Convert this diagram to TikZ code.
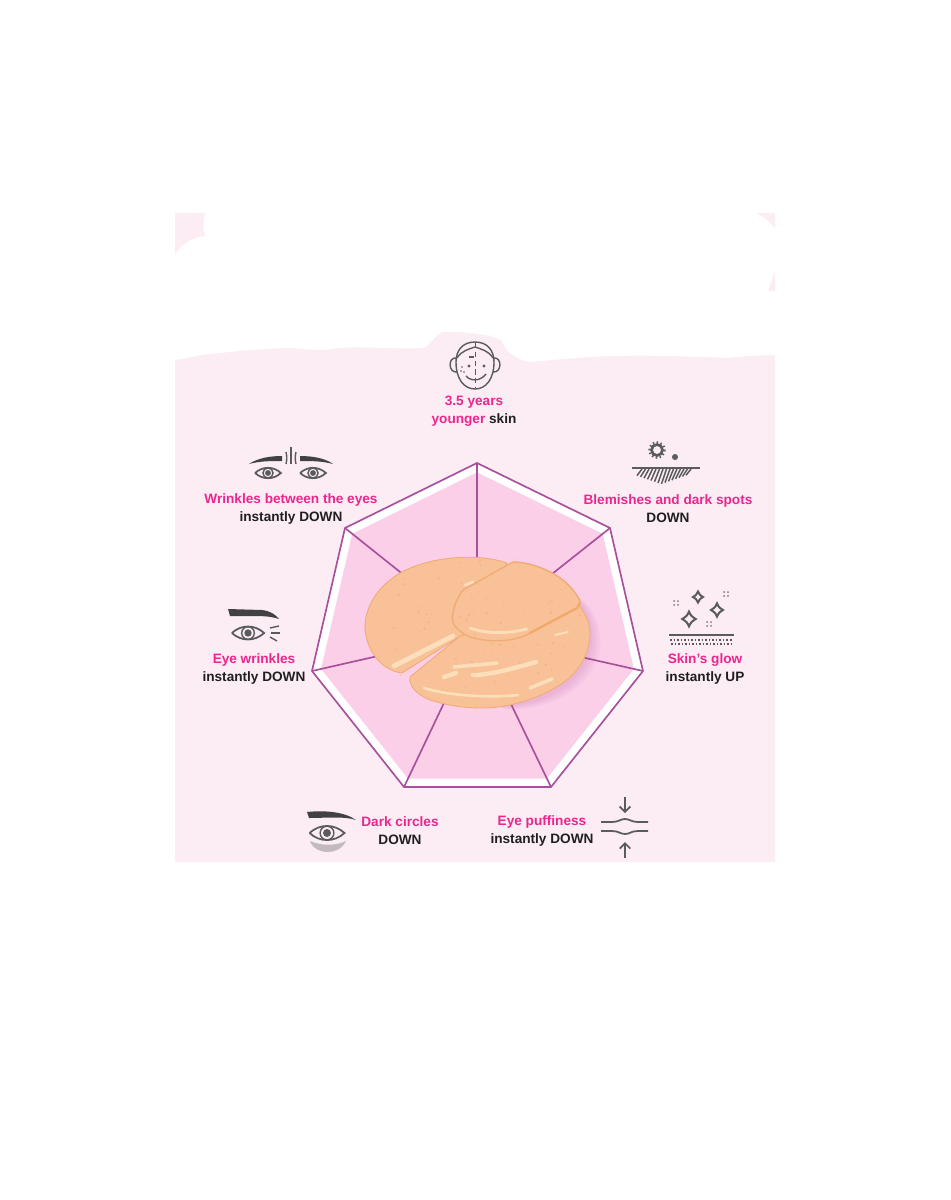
\documentclass[tikz,border=0pt]{standalone}
\usepackage{fontspec}
\setmainfont{Liberation Sans}
\usetikzlibrary{calc,arrows.meta}
\definecolor{bgpink}{HTML}{FBEDF3}
\definecolor{fillpink}{HTML}{FBCFE8}
\definecolor{linepurple}{HTML}{A9509C}
\definecolor{hotpink}{HTML}{EC268F}
\definecolor{inkgrey}{HTML}{5A5B5F}
\definecolor{inkdark}{HTML}{1F1F22}
\definecolor{peach}{HTML}{F8C197}
\definecolor{peachedge}{HTML}{F0AC74}
\definecolor{peachlight}{HTML}{FCE2BE}
\tikzset{%
    lbl/.style={align=center,inner sep=0pt,text=inkdark,font=\fontsize{7.75}{10.2}\selectfont\bfseries},
    ink/.style={draw=inkgrey,line width=0.8pt},
    brow/.style={fill=inkdark!85!white,draw=none},
    shine/.style={draw=peachlight,line cap=round,opacity=0.9},
    patch/.style={fill=peach,draw=peachedge,line width=0.5pt},
    eyeic/.pic={
        \draw[ink,fill=bgpink,line width=1pt] (-14,0) .. controls (-6,-7.5) and (6,-7.5) .. (14,0) .. controls (6,7.5) and (-6,7.5) .. (-14,0);
        \draw[ink] (0,0) circle (5.5);
        \fill[inkgrey] (0,0) circle (3.2);
    },
    sparkle/.pic={
        \draw[ink,line width=1.15pt,line join=miter] (0,-5.5) .. controls (1.6,-2.2) .. (5,0) .. controls (1.6,2.2) .. (0,5.5) .. controls (-1.6,2.2) .. (-5,0) .. controls (-1.6,-2.2) .. (0,-5.5) -- cycle;
    },
    dotsq/.pic={
        \foreach \dx in {-1.9,1.9} \foreach \dy in {-1.9,1.9}
            \fill[inkgrey!80!bgpink] (\dx,\dy) circle (1);
    }
}
\newcommand{\pk}[1]{{\color{hotpink}#1}}
\begin{document}
\begin{tikzpicture}[x=0.02cm,y=-0.02cm]
    \useasboundingbox (0,0) rectangle (950,1200);
    \fill[white] (0,0) rectangle (950,1200);

    \fill[bgpink] (175,360) .. controls (190,358) and (200,355) .. (210,354) .. controls (240,351) and (270,348) .. (291,348)
        .. controls (310,350) and (325,351) .. (338,348) .. controls (370,346) and (400,350) .. (423,348)
        .. controls (430,346) and (436,334) .. (443,332) .. controls (465,331) and (490,335) .. (501,340)
        .. controls (505,350) and (512,358) .. (529,362) .. controls (545,361) and (560,359) .. (579,358)
        .. controls (620,354) and (680,356) .. (727,358) .. controls (745,356) and (760,355) .. (775,355)
        -- (775,862) -- (175,862) -- cycle;
    \fill[bgpink] (175,213) -- (205,213) .. controls (203,220) and (203,230) .. (205,236) .. controls (190,238) and (180,245) .. (175,255) -- cycle;
    \fill[bgpink] (757,213) -- (775,213) -- (775,228) .. controls (770,222) and (764,217) .. (757,213) -- cycle;
    \fill[bgpink] (775,272) -- (775,291) -- (768,291) -- cycle;

    \coordinate (ctr) at (477,633.5);
    \coordinate (va) at (477,463);
    \coordinate (vb) at (610,528);
    \coordinate (vc) at (643,671);
    \coordinate (vd) at (551,787);
    \coordinate (ve) at (404,787);
    \coordinate (vf) at (312,671);
    \coordinate (vg) at (345,528);

    \fill[white] (va) -- (vb) -- (vc) -- (vd) -- (ve) -- (vf) -- (vg) -- cycle;
    \fill[fillpink] ($(ctr)!0.945!(va)$) -- ($(ctr)!0.945!(vb)$) -- ($(ctr)!0.945!(vc)$) -- ($(ctr)!0.945!(vd)$)
        -- ($(ctr)!0.945!(ve)$) -- ($(ctr)!0.945!(vf)$) -- ($(ctr)!0.945!(vg)$) -- cycle;
    \draw[linepurple,line width=0.95pt,line join=miter] (va) -- (vb) -- (vc) -- (vd) -- (ve) -- (vf) -- (vg) -- cycle;
    \foreach \v in {va,vb,vc,vd,ve,vf,vg}
        \draw[linepurple,line width=0.95pt] (\v) -- (ctr);

    \foreach \d in {1,2.5,4,5.5}
        \fill[linepurple,opacity=0.05,xshift=\d pt,yshift=-0.4*\d pt] (500,706) .. controls (560,704) and (596,668) .. (590,630) .. controls (588,612) and (580,600) .. (565,590) -- (440,690) -- cycle;

    % patches
    \path[patch] (460,636) -- (410,677) .. controls (408,687) and (420,698) .. (437,702) .. controls (455,707) and (470,708) .. (483,708)
        .. controls (510,708) and (545,697) .. (567,680) .. controls (582,668) and (590,650) .. (590,633) .. controls (590,622) and (585,614) .. (580,606) -- cycle;
    \path[patch] (507,563) .. controls (478,553) and (432,556) .. (402,572) .. controls (378,585) and (365,607) .. (365,627)
        .. controls (365,645) and (378,670) .. (402,673) -- (470,630) -- cycle;

    \begin{scope}
        \clip (365,627) .. controls (368,590) and (420,555) .. (507,557) .. controls (550,560) and (592,610) .. (590,640) .. controls (585,680) and (530,708) .. (483,708) .. controls (440,708) and (375,680) .. (365,627) -- cycle;
        \pgfmathsetseed{41}
        \foreach \k in {1,...,110}
            \fill[peachedge!85!orange,opacity=0.55] ({365+225*rnd},{557+150*rnd}) circle ({0.5+0.7*rnd});
    \end{scope}

    \path[patch,line width=0.8pt] (513,562) .. controls (530,562) and (550,570) .. (563,580) .. controls (572,588) and (578,595) .. (580,602)
        -- (577,608) -- (530,633) .. controls (515,642) and (490,643) .. (470,637) .. controls (455,630) and (450,622) .. (453,613) .. controls (454,605) and (458,597) .. (463,590) -- cycle;
    \begin{scope}
        \clip (513,562) .. controls (530,562) and (550,570) .. (563,580) .. controls (572,588) and (578,595) .. (580,602)
        -- (577,608) -- (530,633) .. controls (515,642) and (490,643) .. (470,637) .. controls (455,630) and (450,622) .. (453,613) .. controls (454,605) and (458,597) .. (463,590) -- cycle;
        \pgfmathsetseed{7}
        \foreach \k in {1,...,40}
            \fill[peachedge!85!orange,opacity=0.55] ({453+127*rnd},{562+80*rnd}) circle ({0.5+0.7*rnd});
    \end{scope}
    \draw[peachedge!90!orange,line width=1.2pt] (580,603) -- (577,608) -- (530,633);

    \draw[shine,line width=2.8pt] (394,666) -- (453,636);
    \draw[shine,line width=2pt] (454,667) -- (497,663);
    \draw[shine,line width=2.5pt] (473,675) .. controls (490,675) and (515,668) .. (536,662);
    \draw[shine,line width=2.5pt] (444,677) -- (456,673);
    \draw[shine,line width=1.5pt] (424,688) .. controls (450,696) and (490,698) .. (518,695);
    \draw[shine,line width=2pt] (530,688) -- (552,679);
    \draw[shine,line width=1.6pt] (470,628) .. controls (490,635) and (510,633) .. (527,629);
    \draw[shine,line width=1.2pt] (555,635) -- (568,632);
    \draw[shine,line width=1.5pt] (465,585) -- (473,582);

    % face icon
    \draw[ink] (475,342) .. controls (462,342) and (456,351) .. (456,362) .. controls (456,379) and (464,389) .. (475,389)
        .. controls (486,389) and (494,379) .. (494,362) .. controls (494,351) and (488,342) .. (475,342) -- cycle;
    \draw[ink] (456,358) .. controls (448,357) and (448,373) .. (457,372);
    \draw[ink] (494,358) .. controls (502,357) and (502,373) .. (493,372);
    \draw[ink] (457,358) .. controls (461,351) and (469,349) .. (475,347) .. controls (481,349) and (489,351) .. (493,358);
    \draw[ink,densely dashed,line width=0.5pt] (475,343) -- (475,388);
    \draw[ink] (469,357) -- (474,357);
    \fill[inkgrey] (469,366) circle (1.6);
    \fill[inkgrey] (484,366) circle (1.6);
    \fill[inkgrey] (462,367) circle (0.9) (461,371) circle (0.9) (464,372) circle (0.9);
    \draw[ink] (466,376) .. controls (470,381) and (480,382) .. (486,374);

    % brow icon
    \fill[brow] (249,464) .. controls (258,458) and (270,456) .. (282,456) -- (282,461) .. controls (270,461) and (260,461) .. (249,464) -- cycle;
    \fill[brow] (300,456) .. controls (312,456) and (325,458) .. (333,464) .. controls (322,461) and (312,461) .. (300,461) -- cycle;
    \draw[ink] (286,452) .. controls (287,456) and (287,460) .. (286,464);
    \draw[ink] (291,447) -- (291,464);
    \draw[ink] (296,452) .. controls (295,456) and (295,460) .. (296,464);
    \pic[scale=0.92] at (268,473) {eyeic};
    \pic[scale=0.92] at (313,473) {eyeic};

    % blemish icon
    \draw[ink,line width=1.5pt] (657,450) circle (5.5);
    \draw[inkgrey,line width=1.4pt,dash pattern=on 0.8pt off 1.4pt] (657,450) circle (7.5);
    \fill[inkgrey] (675,457) circle (3);
    \draw[ink,line width=1pt] (632,468) -- (700,468);
    \foreach \x in {0,3.5,...,49}
        \draw[ink,line width=0.85pt] ({640+\x+2},469) -- ({640+\x-3},{469+15-abs(\x-24)*0.35});

    % glow icon
    \pic at (698,597) {sparkle};
    \pic[scale=1.2] at (717,610) {sparkle};
    \pic[scale=1.35] at (689,619) {sparkle};
    \pic at (676,603) {dotsq};
    \pic at (726,594) {dotsq};
    \pic at (709,624) {dotsq};
    \draw[ink,line width=1.3pt] (669,635) -- (734,635);
    \draw[inkgrey,line width=1.1pt,dash pattern=on 1pt off 1pt] (670,640) -- (733,640);
    \draw[inkgrey,line width=1.1pt,dash pattern=on 1pt off 1pt] (671,644) -- (732,644);

    % eye wrinkle icon
    \fill[brow] (228,609) -- (262,610) .. controls (270,611) and (275,614) .. (279,619) .. controls (270,616) and (262,616) .. (250,616) -- (230,616) -- cycle;
    \pic[scale=1.15] at (248,633) {eyeic};
    \draw[ink] (270,628) -- (279,626);
    \draw[ink] (271,633) -- (280,633);
    \draw[ink] (270,637) -- (277,641);

    % dark circle icon
    \fill[brow] (307,812) .. controls (325,810) and (345,812) .. (356,820) .. controls (345,816) and (325,818) .. (309,818) -- cycle;
    \fill[inkgrey!35!bgpink] (310,841) .. controls (322,846) and (335,846) .. (346,841) .. controls (342,849) and (335,852) .. (328,852) .. controls (320,852) and (313,849) .. (310,841) -- cycle;
    \pic[scale=1.25] at (327,833) {eyeic};

    % puffiness icon
    \draw[ink,line width=1pt] (601,822) -- (612,822) .. controls (619,822) and (620,819) .. (625,819) .. controls (630,819) and (631,822) .. (638,822) -- (648,822);
    \draw[ink,line width=1pt] (601,831) -- (612,831) .. controls (619,831) and (620,834) .. (625,834) .. controls (630,834) and (631,831) .. (638,831) -- (648,831);
    \coordinate (pa) at (625,797);
    \coordinate (pb) at (625,813);
    \coordinate (pc) at (625,858);
    \coordinate (pd) at (625,842);
    \draw[ink,line width=1pt,-{Straight Barb[length=3pt,width=6pt]}] (pa) -- (pb);
    \draw[ink,line width=1pt,-{Straight Barb[length=3pt,width=6pt]}] (pc) -- (pd);

    \node[lbl] (young) at (474,411) {\pk{3.5 years}\\\pk{younger} skin};
    \node[lbl] (wrink) at (291,509) {\pk{Wrinkles between the eyes}\\instantly DOWN};
    \node[lbl] (spots) at (668,509) {\pk{Blemishes and dark spots}\\DOWN};
    \node[lbl] (eyew) at (254,669) {\pk{Eye wrinkles}\\instantly DOWN};
    \node[lbl] (glow) at (705,669) {\pk{Skin's glow}\\instantly UP};
    \node[lbl] (dark) at (400,831) {\pk{Dark circles}\\DOWN};
    \node[lbl] (puff) at (542,831) {\pk{Eye puffiness}\\instantly DOWN};
\end{tikzpicture}
\end{document}
